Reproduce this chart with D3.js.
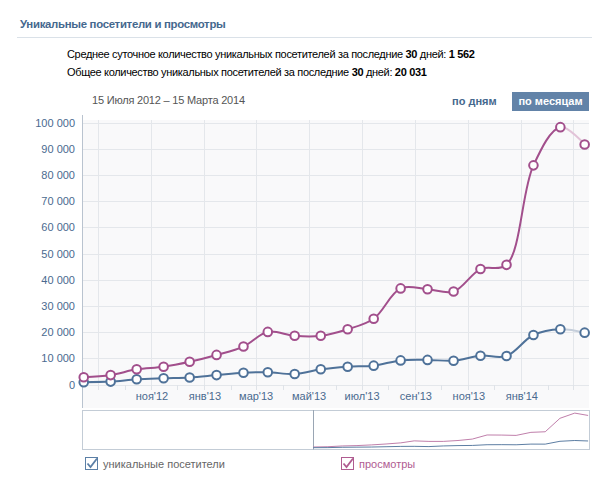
<!DOCTYPE html>
<html><head><meta charset="utf-8">
<script src="https://cdn.jsdelivr.net/npm/d3@7"></script>
<style>
body{margin:0;background:#fff;}
svg{font-family:"Liberation Sans",Arial,sans-serif;}
</style>
</head><body>
<svg id="c" width="610" height="484"></svg>
<script>
// ---- data ----
const months = ["2012-08-15","2012-09-15","2012-10-15","2012-11-15","2012-12-15",
  "2013-01-15","2013-02-15","2013-03-15","2013-04-15","2013-05-15","2013-06-15",
  "2013-07-15","2013-08-15","2013-09-15","2013-10-15","2013-11-15","2013-12-15",
  "2014-01-15","2014-02-15","2014-03-15"];
const visitors = [900,1100,2000,2400,2700,3600,4500,4700,4000,5800,6800,7200,
  9200,9400,9100,11000,10900,18900,21100,19800];
const views = [2750,3600,5800,6800,8700,11300,14500,20100,18600,18600,21100,25100,
  36700,36400,35500,44100,45700,83700,98300,91700];
const yTicks = [0,10000,20000,30000,40000,50000,60000,70000,80000,90000,100000];
const xTickDates = ["2012-09-01","2012-11-01","2013-01-01","2013-03-01","2013-05-01",
  "2013-07-01","2013-09-01","2013-11-01","2014-01-01","2014-03-01"];
const xTickLabels = ["","ноя'12","янв'13","мар'13","май'13","июл'13","сен'13","ноя'13","янв'14",""];
const seriesNames = ["уникальные посетители","просмотры"];

const parse = d3.timeParse("%Y-%m-%d");
const dates = months.map(parse);
const tickDates = xTickDates.map(parse);

const svg = d3.select("#c");
const BLUE = "#4f7299", PINK = "#a24f8c";
const TITLE = "#45688e";
const FS = 11;

// ---- header ----
svg.append("text").attr("x",20).attr("y",28).attr("fill",TITLE)
  .attr("font-size",11.4).attr("letter-spacing",-0.3).attr("font-weight","bold")
  .text("Уникальные посетители и просмотры");
svg.append("line").attr("x1",17).attr("x2",592).attr("y1",37.5).attr("y2",37.5)
  .attr("stroke","#dae1e8");

function statLine(y, parts){
  const t = svg.append("text").attr("x",67).attr("y",y).attr("font-size",FS)
    .attr("letter-spacing",-0.33).attr("fill","#000");
  parts.forEach(p=>t.append("tspan").attr("font-weight",p[1]?"bold":"normal").text(p[0]));
}
statLine(58,[["Среднее суточное количество уникальных посетителей за последние ",0],["30",1],[" дней: ",0],["1 562",1]]);
statLine(76,[["Общее количество уникальных посетителей за последние ",0],["30",1],[" дней: ",0],["20 031",1]]);

svg.append("text").attr("x",92).attr("y",104).attr("font-size",FS).attr("letter-spacing",-0.2)
  .attr("fill","#555").text("15 Июля 2012 – 15 Марта 2014");
svg.append("text").attr("x",452).attr("y",105).attr("font-size",FS).attr("font-weight","bold")
  .attr("fill",TITLE).text("по дням");
svg.append("rect").attr("x",512).attr("y",92).attr("width",77).attr("height",19).attr("fill","#6283a8");
svg.append("text").attr("x",550.5).attr("y",105).attr("font-size",FS).attr("font-weight","bold")
  .attr("fill","#fff").attr("text-anchor","middle").text("по месяцам");

// ---- main plot ----
const L=82, R=589, T=120, B=408;
const x = d3.scaleTime().domain([parse("2012-08-13"), parse("2014-03-20")]).range([L,R]);
const y = d3.scaleLinear().domain([0,100000]).range([384.5,122.7]);

svg.append("rect").attr("x",L).attr("y",T).attr("width",R-L).attr("height",B-T).attr("fill","#f9f9fa");

// horizontal grid
svg.append("g").selectAll("line").data(yTicks).join("line")
  .attr("x1",L).attr("x2",R).attr("y1",d=>Math.round(y(d))+0.5).attr("y2",d=>Math.round(y(d))+0.5)
  .attr("stroke","#e4e7eb");
// vertical grid
svg.append("g").selectAll("line").data(tickDates).join("line")
  .attr("x1",d=>Math.round(x(d))+0.5).attr("x2",d=>Math.round(x(d))+0.5)
  .attr("y1",T).attr("y2",390).attr("stroke","#e4e7eb");
// monthly minor ticks
const allMonths = d3.timeMonth.range(parse("2012-09-01"), parse("2014-03-02"));
svg.append("g").selectAll("line").data(allMonths).join("line")
  .attr("x1",d=>Math.round(x(d))+0.5).attr("x2",d=>Math.round(x(d))+0.5)
  .attr("y1",385).attr("y2",390).attr("stroke","#dfe3e8");

// y axis
const yAxis = d3.axisLeft(y).tickValues(yTicks).tickSize(0).tickPadding(7)
  .tickFormat(d=>d3.format(",")(d).replace(/,/g," "));
const gy = svg.append("g").attr("transform",`translate(${L},0)`).call(yAxis);
gy.select(".domain").remove();
gy.selectAll("text").attr("fill","#4a6a8f").attr("font-size",FS).attr("font-family","Liberation Sans, Arial, sans-serif");
svg.append("line").attr("x1",L+0.5).attr("x2",L+0.5).attr("y1",115).attr("y2",B)
  .attr("stroke","#b9c3cf");

// x axis
const xAxis = d3.axisBottom(x).tickValues(tickDates).tickSize(0).tickPadding(0)
  .tickFormat((d,i)=>xTickLabels[i]);
const gx = svg.append("g").attr("transform",`translate(0,391)`).call(xAxis);
gx.select(".domain").remove();
gx.selectAll("text").attr("fill","#4a6a8f").attr("font-size",FS).attr("font-family","Liberation Sans, Arial, sans-serif")
  .attr("dy","0.85em");

// clips
const splitX = x(dates[dates.length-2]);
const defs = svg.append("defs");
defs.append("clipPath").attr("id","cA").append("rect").attr("x",0).attr("y",0).attr("width",splitX).attr("height",484);
defs.append("clipPath").attr("id","cB").append("rect").attr("x",splitX).attr("y",0).attr("width",610-splitX).attr("height",484);

const line = d3.line().x((d,i)=>x(dates[i])).y(d=>y(d)).curve(d3.curveCatmullRom.alpha(0.5));
const series = [{v:visitors,c:BLUE,light:"#c5ceda"},{v:views,c:PINK,light:"#e2c3d8"}];
series.forEach(s=>{
  svg.append("path").attr("d",line(s.v)).attr("fill","none").attr("stroke",s.c)
    .attr("stroke-width",2).attr("clip-path","url(#cA)");
  svg.append("path").attr("d",line(s.v)).attr("fill","none").attr("stroke",s.light)
    .attr("stroke-width",2).attr("clip-path","url(#cB)");
});
series.forEach(s=>{
  svg.append("g").selectAll("circle").data(s.v).join("circle")
    .attr("cx",(d,i)=>x(dates[i])).attr("cy",d=>y(d)).attr("r",4.3)
    .attr("fill","#fff").attr("stroke",s.c).attr("stroke-width",2);
});

// ---- navigator ----
const NT=410, NB=449;
const nx = d3.scaleTime().domain([parse("2011-04-18"), parse("2014-03-19")]).range([L,590]);
const ny = d3.scaleLinear().domain([0,100000]).range([NB-1,412.5]);
svg.append("rect").attr("x",L+0.5).attr("y",NT+0.5).attr("width",590-L-1).attr("height",NB-NT)
  .attr("fill","#fff").attr("stroke","#c3ccd6");
const selX = Math.round(nx(dates[0]))+0.5;
svg.append("line").attr("x1",selX).attr("x2",selX).attr("y1",NT).attr("y2",NB+0.5).attr("stroke","#9aa6b4");
const nline = d3.line().x((d,i)=>nx(dates[i])).y(d=>ny(d));
svg.append("path").attr("d",nline(views)).attr("fill","none").attr("stroke","#c07fab").attr("stroke-width",1);
svg.append("path").attr("d",nline(visitors)).attr("fill","none").attr("stroke","#5d7ea3").attr("stroke-width",1);

// ---- legend ----
const legend = [{x:85,c:"#5b7fa6",tc:"#666",name:seriesNames[0]},{x:341,c:"#b05c91",tc:"#b05c91",name:seriesNames[1]}];
legend.forEach(l=>{
  const g = svg.append("g").attr("transform",`translate(${l.x},457)`);
  g.append("rect").attr("x",0.5).attr("y",0.5).attr("width",12).attr("height",12).attr("fill","#fff").attr("stroke",l.c);
  g.append("path").attr("d","M2.5,6.5 L5.5,10 L12,1.5").attr("fill","none").attr("stroke",l.c).attr("stroke-width",1.8);
  g.append("text").attr("x",18).attr("y",11).attr("font-size",FS).attr("fill",l.tc).text(l.name);
});
</script>
</body></html>
